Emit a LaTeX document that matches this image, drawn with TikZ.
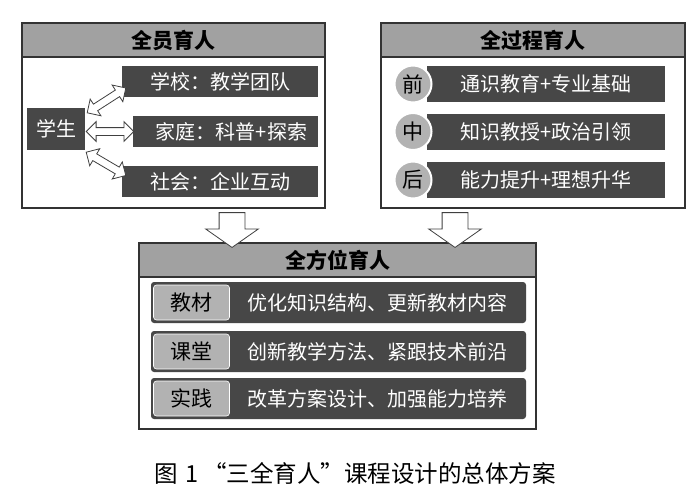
\documentclass[tikz,border=0pt]{standalone}
\usepackage{fontspec}
\setmainfont{Noto Sans CJK SC}
\newfontfamily\cjk{Noto Sans CJK SC}
\usetikzlibrary{shapes.arrows,calc}
\tikzset{
  panel/.style={draw=black!80, line width=1.4pt, fill=white, inner sep=0pt},
  headbar/.style={draw=black!80, line width=1.4pt, fill=black!37, inner sep=0pt,
    font=\cjk\bfseries\fontsize{21}{21}\selectfont},
  darkbox/.style={fill=black!72, text=white!92, inner sep=0pt,
    font=\cjk\fontsize{20}{20}\selectfont},
  darkbar/.style={darkbox, rounded corners=3pt},
  tagbox/.style={fill=black!30, draw=white!85, line width=0.6pt, rounded corners=3pt,
    inner sep=0pt, minimum width=76pt, minimum height=35pt,
    font=\cjk\fontsize{21}{21}\selectfont},
  stagedot/.style={circle, fill=black!30, draw=white, line width=2pt, minimum size=37pt,
    inner sep=0pt, font=\cjk\fontsize{21}{21}\selectfont},
  linkarrow/.style={double arrow, draw=black!75, fill=white, line width=0.8pt,
    inner sep=3.5pt, double arrow head extend=6pt, sloped},
  downarrow/.style={single arrow, draw=black!75, fill=white, line width=0.8pt,
    inner sep=12.5pt, single arrow head extend=13.5pt, single arrow tip angle=110, sloped}
}
\begin{document}
\begin{tikzpicture}[x=1pt,y=-1pt]
  \useasboundingbox (0,0) rectangle (700,503);
  % three panels
  \node[panel, minimum width=303pt, minimum height=185pt] (leftp) at (173.5,115.5) {};
  \node[headbar, minimum width=303pt, minimum height=34pt] (lefth) at (173.5,40) {全员育人};
  \node[panel, minimum width=304pt, minimum height=185pt] (rightp) at (533,115.5) {};
  \node[headbar, minimum width=304pt, minimum height=34pt] (righth) at (533,40) {全过程育人};
  \node[panel, minimum width=397pt, minimum height=186pt] (botp) at (337.5,336) {};
  \node[headbar, minimum width=397pt, minimum height=34pt] (both) at (337.5,260) {全方位育人};
  % left panel
  \node[darkbox, minimum width=58pt, minimum height=42pt] (student) at (56,129) {学生};
  \node[darkbox, minimum width=196pt, minimum height=31pt] (school) at (220,81.5) {学校：教学团队};
  \node[darkbox, minimum width=185pt, minimum height=31pt] (home) at (225.5,131.5) {\hspace{12pt}家庭：科普+探索};
  \node[darkbox, minimum width=196pt, minimum height=31pt] (society) at (220,181.5) {社会：企业互动};
  \coordinate (s1) at ([xshift=2pt,yshift=-5pt]student.north east);
  \coordinate (e1) at ([xshift=4pt,yshift=-6.5pt]school.west);
  \coordinate (s2) at ([xshift=1pt]student.east |- home.west);
  \coordinate (e2) at ([xshift=1pt]home.west);
  \coordinate (s3) at ([xshift=1pt,yshift=-2pt]student.south east);
  \coordinate (e3) at ([xshift=4pt,yshift=6pt]society.west);
  \foreach \a/\b in {s1/e1,s2/e2,s3/e3}
    \path let \p1=($(\b)-(\a)$), \n1={veclen(\x1,\y1)} in
      (\a) -- node[linkarrow, minimum height=\n1] {} (\b);
  % right panel
  \foreach \y/\t/\w [count=\i] in {84/前/通识教育+专业基础,131.5/中/知识教授+政治引领,180/后/能力提升+理想升华} {
    \node[darkbox, minimum width=238pt, minimum height=36pt] (stage\i) at (546,\y) {\w};
    \node[stagedot] (dot\i) at (413,\y) {\t};
  }
  % arrows down
  \coordinate (t1) at (232,0 |- leftp.south);
  \coordinate (h1) at (232,0 |- botp.north);
  \coordinate (t2) at (455,0 |- rightp.south);
  \coordinate (h2) at (455,0 |- botp.north);
  \path (t1) -- node[downarrow, minimum height=34pt] {} (h1);
  \path (t2) -- node[downarrow, minimum height=34pt] {} (h2);
  % bottom panel
  \foreach \y/\t/\w [count=\i] in {302.5/教材/优化知识结构、更新教材内容,351.5/课堂/创新教学方法、紧跟技术前沿,398.5/实践/改革方案设计、加强能力培养} {
    \node[darkbar, minimum width=375pt, minimum height=41pt] (bar\i) at (338.5,\y) {};
    \node[tagbox] (tag\i) at (191.5,\y) {\t};
    \node[darkbox, fill=none] (txt\i) at (377.5,\y) {\w};
  }
  \node[font=\cjk\fontsize{23.5}{24}\selectfont] (caption) at (355,473) {图\hspace{8pt}1\hspace{4pt}“三全育人”课程设计的总体方案};
\end{tikzpicture}
\end{document}
